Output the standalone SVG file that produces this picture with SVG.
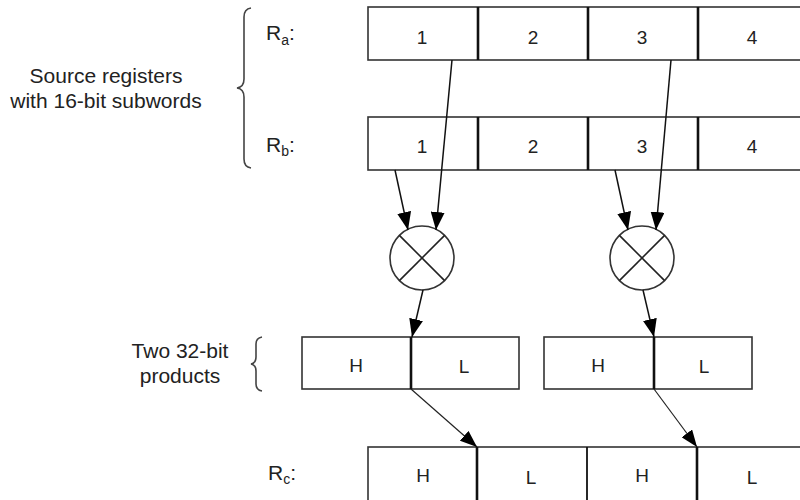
<svg xmlns="http://www.w3.org/2000/svg" width="800" height="500" viewBox="0 0 800 500">
<style>
text{font-family:"Liberation Sans",Arial,sans-serif;fill:#222}
.t{font-size:21px}
.c{font-size:19px;text-anchor:middle}
.sub{font-size:14px}
.box{fill:#fff;stroke:#333;stroke-width:1.6}
.div{stroke:#111;stroke-width:2.6}
.divt{stroke:#111;stroke-width:1.8}
.br{fill:none;stroke:#444;stroke-width:1.6}
.mul{fill:#fff;stroke:#333;stroke-width:1.6}
.x{stroke:#222;stroke-width:1.6}
.ar{stroke:#111;stroke-width:1.5;fill:none;marker-end:url(#ah)}
.ar2{stroke:#222;stroke-width:1.2;fill:none;marker-end:url(#ah2)}
</style>
<defs>
<marker id="ah" viewBox="0 0 18 14" refX="18" refY="7" markerWidth="18" markerHeight="14" markerUnits="userSpaceOnUse" orient="auto">
<path d="M0,0 L18,7 L0,14 z" fill="#000"/>
</marker>
<marker id="ah2" viewBox="0 0 17 13" refX="17" refY="6.5" markerWidth="17" markerHeight="13" markerUnits="userSpaceOnUse" orient="auto">
<path d="M0,0 L17,6.5 L0,13 z" fill="#000"/>
</marker>
</defs>
<rect width="800" height="500" fill="#fff"/>

<g id="source-label">
<text class="t" x="106" y="83" text-anchor="middle">Source registers</text>
<text class="t" x="106" y="108" text-anchor="middle">with 16-bit subwords</text>
<path class="br" d="M251,8 Q244,9 244,17 L244,79 Q244,87 237,88 Q244,89 244,97 L244,159 Q244,167 251,168"/>
</g>

<g id="ra">
<text class="t" x="266" y="40">R<tspan class="sub" dy="5">a</tspan><tspan dy="-5">:</tspan></text>
<rect class="box" x="368" y="7" width="450" height="53"/>
<line class="div" x1="478" y1="7" x2="478" y2="60"/>
<line class="div" x1="588" y1="7" x2="588" y2="60"/>
<line class="div" x1="698" y1="7" x2="698" y2="60"/>
<text class="c" x="422" y="44">1</text>
<text class="c" x="533" y="44">2</text>
<text class="c" x="642" y="44">3</text>
<text class="c" x="752" y="44">4</text>
</g>

<g id="rb">
<text class="t" x="266" y="152">R<tspan class="sub" dy="4">b</tspan><tspan dy="-4">:</tspan></text>
<rect class="box" x="368" y="117" width="450" height="53"/>
<line class="div" x1="478" y1="117" x2="478" y2="170"/>
<line class="div" x1="588" y1="117" x2="588" y2="170"/>
<line class="div" x1="698" y1="117" x2="698" y2="170"/>
<text class="c" x="422" y="153">1</text>
<text class="c" x="533" y="153">2</text>
<text class="c" x="642" y="153">3</text>
<text class="c" x="752" y="153">4</text>
</g>

<g id="mul1">
<circle class="mul" cx="422" cy="258" r="32"/>
<line class="x" x1="399.4" y1="235.4" x2="444.6" y2="280.6"/>
<line class="x" x1="444.6" y1="235.4" x2="399.4" y2="280.6"/>
</g>

<g id="mul2">
<circle class="mul" cx="642" cy="258" r="32"/>
<line class="x" x1="619.4" y1="235.4" x2="664.6" y2="280.6"/>
<line class="x" x1="664.6" y1="235.4" x2="619.4" y2="280.6"/>
</g>

<g id="products-label">
<text class="t" x="180" y="358" text-anchor="middle">Two 32-bit</text>
<text class="t" x="180" y="383" text-anchor="middle">products</text>
<path class="br" d="M262,337 Q256,338 256,344 L256,357 Q256,363 251,364 Q256,365 256,371 L256,384 Q256,390 262,391"/>
</g>

<g id="p1">
<rect class="box" x="302" y="337" width="217" height="52"/>
<line class="div" x1="411" y1="337" x2="411" y2="389"/>
<text class="c" x="356" y="372">H</text>
<text class="c" x="464" y="373">L</text>
</g>

<g id="p2">
<rect class="box" x="544" y="337" width="208" height="52"/>
<line class="div" x1="654" y1="337" x2="654" y2="389"/>
<text class="c" x="598" y="372">H</text>
<text class="c" x="704" y="373">L</text>
</g>

<g id="rc">
<text class="t" x="268" y="480">R<tspan class="sub" dy="4">c</tspan><tspan dy="-4">:</tspan></text>
<rect class="box" x="368" y="447" width="450" height="60"/>
<line class="div" x1="477" y1="447" x2="477" y2="500"/>
<line class="divt" x1="587" y1="447" x2="587" y2="500"/>
<line class="div" x1="697" y1="447" x2="697" y2="500"/>
<text class="c" x="423" y="482">H</text>
<text class="c" x="531" y="484">L</text>
<text class="c" x="642" y="482">H</text>
<text class="c" x="752" y="484">L</text>
</g>

<g id="connectors">
<line class="ar" x1="395" y1="170" x2="408" y2="230"/>
<line class="ar" x1="452" y1="60" x2="436" y2="230"/>
<line class="ar" x1="615" y1="170" x2="628" y2="230"/>
<line class="ar" x1="671" y1="60" x2="656" y2="230"/>
<line class="ar" x1="423" y1="290" x2="412" y2="337"/>
<line class="ar" x1="643" y1="290" x2="654" y2="337"/>
<line class="ar2" x1="411" y1="389" x2="477" y2="447"/>
<line class="ar2" x1="654" y1="389" x2="697" y2="447"/>
</g>
</svg>
